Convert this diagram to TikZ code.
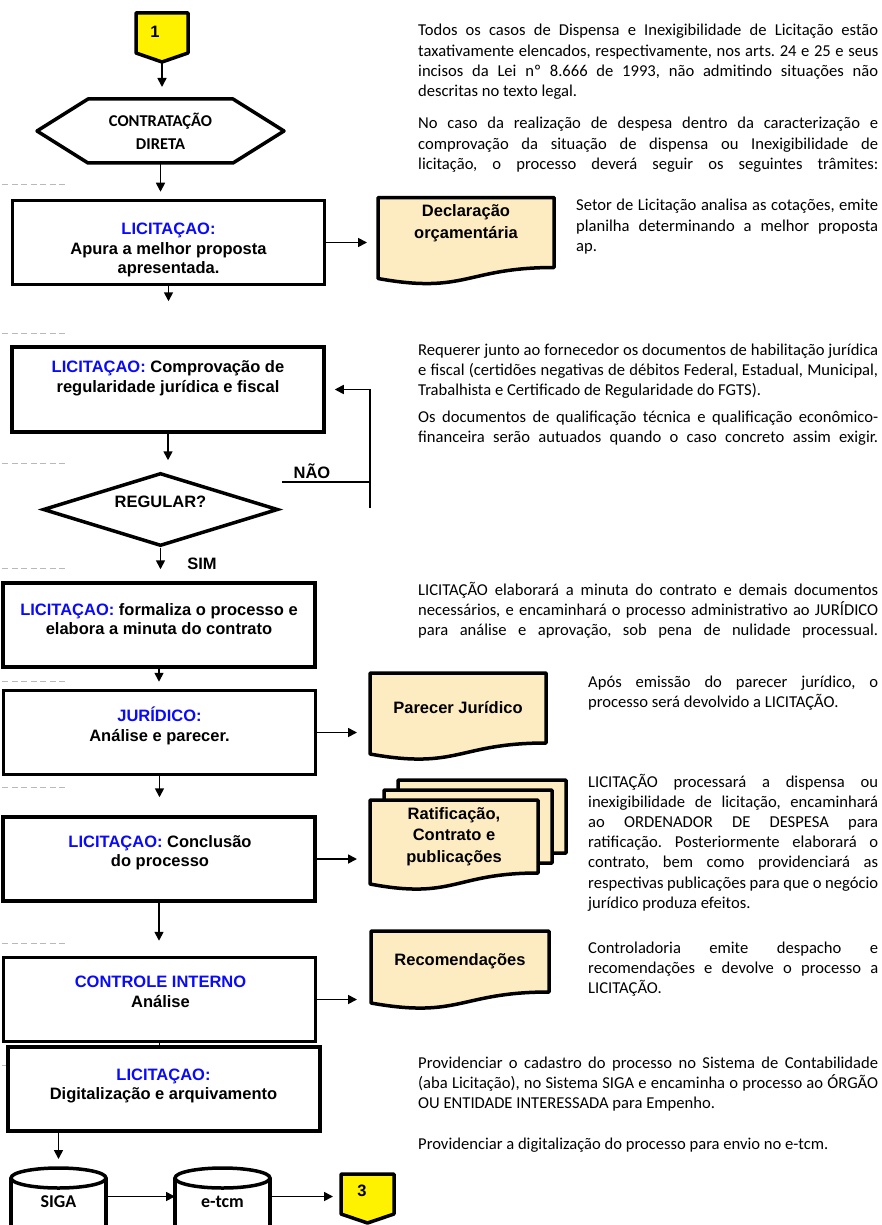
\documentclass[tikz,border=0pt]{standalone}
\usepackage{fontspec}
\setmainfont{Carlito}
\newfontfamily\arialfont{Liberation Sans}
\usetikzlibrary{arrows.meta,shapes.geometric,calc,backgrounds}

\definecolor{docfill}{RGB}{253,235,194}
\definecolor{sepgray}{RGB}{185,185,185}
\definecolor{setorblue}{RGB}{10,10,250}

\newcommand{\boxfont}{\arialfont\bfseries\fontsize{16.5}{19.5}\selectfont}
\newcommand{\docfont}{\arialfont\bfseries\fontsize{16.5}{21.5}\selectfont}
\newcommand{\hexfont}{\bfseries\fontsize{16.5}{23}\selectfont}
\newcommand{\dbfont}{\bfseries\fontsize{18}{20}\selectfont}
\newcommand{\notefont}{\fontsize{16.6}{20.2}\selectfont\frenchspacing}
\newcommand{\setor}[1]{\textcolor{setorblue}{#1}}

\newcommand{\docshape}[2][0,0]{%
  \path[docline] ($(#2.north west)+(#1)$) -- ($(#2.north east)+(#1)$)
    -- ($(#2.south east)+(#1)$)
    .. controls ($(#2.south)+(#1)$) and ($(#2.south)+(#1)+(0,27)$)
    .. ($(#2.south west)+(#1)+(0,11)$) -- cycle;}
\newcommand{\dbshape}[1]{%
  \draw[dbline] ($(#1.north west)+(0,10)$) -- ($(#1.south west)+(0,20)$);
  \draw[dbline] ($(#1.north east)+(0,10)$) -- ($(#1.south east)+(0,20)$);
  \draw[dbline] ($(#1.north)+(0,10)$) ellipse [x radius=47.5, y radius=10];}
\newcommand{\pageconn}[1]{%
  \path[offpage] (#1.north west) -- (#1.north east) -- ([yshift=9pt]#1.south east)
    -- (#1.south) -- ([yshift=9pt]#1.south west) -- cycle;}

\begin{document}
\begin{tikzpicture}[
    x=1pt, y=-1pt,
    proc/.style={draw, fill=white, line width=3.5pt, minimum width=312pt, minimum height=84pt},
    ptext/.style={font=\boxfont, align=center, inner sep=0pt},
    lbl/.style={font=\boxfont, inner sep=0pt},
    decision/.style={diamond, draw, fill=white, line width=3.5pt, aspect=3.2,
      minimum width=235pt, minimum height=73pt, font=\boxfont, inner sep=2pt, text depth=15pt},
    flow/.style={line width=1.7pt, -{Triangle[length=9pt,width=9pt]}},
    link/.style={line width=1.7pt},
    sep/.style={draw=sepgray, line width=1pt, dash pattern=on 6pt off 3.5pt},
    shell/.style={inner sep=0pt, outer sep=0pt},
    docbox/.style={shell, font=\docfont, align=center, minimum width=176pt, minimum height=70pt},
    docline/.style={draw, fill=docfill, line width=3.5pt, line join=round},
    offpage/.style={draw, fill=yellow, line width=3.5pt, line join=round},
    dbline/.style={line width=3.5pt},
    note/.style={anchor=base west, text width=460pt, align=justify, font=\notefont, inner sep=0pt},
  ]
  \useasboundingbox (0,0) rectangle (881,1225);
  \clip (0,0) rectangle (881,1225);

  \foreach \y in {185,333,463,568,681,787,943,1065}
    \draw[sep] (2,\y) -- (65,\y);

  \node[shell, minimum width=52pt, minimum height=49pt] (one) at (162,37.5) {};
  \pageconn{one}
  \node[lbl] (one txt) at (155,32) {1};

  \node[shell, font=\hexfont, align=center, minimum width=247pt, minimum height=64pt] (hex) at (160.5,131) {CONTRATAÇÃO\\DIRETA};
  \draw[line width=3.5pt, line join=round] (hex.west) -- ([xshift=51pt]hex.north west)
    -- ([xshift=-51pt]hex.north east) -- (hex.east)
    -- ([xshift=-51pt]hex.south east) -- ([xshift=51pt]hex.south west) -- cycle;

  \node[proc] (b1) at (168.5,242.5) {};
  \node[proc, minimum height=85pt] (b2) at (168,389.5) {};
  \node[decision] (reg) at (160.5,509.5) {REGULAR?};
  \node[proc] (b3) at (159,625) {};
  \node[proc] (b4) at (159.5,732.5) {};
  \node[proc] (b5) at (159,859) {};
  \node[proc] (b6) at (159.5,999.5) {};
  \node[proc] (b7) at (164,1089) {};

  \node[ptext] (t1) at (168.5,250) {\setor{LICITAÇAO:}\\Apura a melhor proposta\\apresentada.};
  \node[ptext] (t2) at (168,378.5) {\setor{LICITAÇAO:} Comprovação de\\regularidade jurídica e fiscal};
  \node[ptext] (t3) at (159,619) {\setor{LICITAÇAO:} formaliza o processo e\\elabora a minuta do contrato};
  \node[ptext] (t4) at (159.5,726) {\setor{JURÍDICO:}\\Análise e parecer.};
  \node[ptext] (t5) at (160,852.5) {\setor{LICITAÇAO:} Conclusão\\do processo};
  \node[ptext] (t6) at (160.5,992) {\setor{CONTROLE INTERNO}\\Análise};
  \node[ptext] (t7) at (163.5,1086) {\setor{LICITAÇAO:}\\Digitalização e arquivamento};

  \node[docbox] (decl) at (466,232.5) {Declaração\\orçamentária\\\mbox{}};
  \node[docbox] (parecer) at (458,708) {Parecer Jurídico};
  \node[docbox, minimum width=168pt, minimum height=73pt] (ratif) at (454,836.5) {Ratificação,\\Contrato e\\publicações};
  \node[docbox, minimum width=178pt, minimum height=61pt] (recom) at (460,961.5) {Recomendações};
  \begin{scope}[on background layer]
    \docshape{decl}
    \docshape{parecer}
    \docshape[28,-20]{ratif}
    \docshape[14,-10]{ratif}
    \docshape{ratif}
    \docshape{recom}
  \end{scope}

  \node[shell, font=\dbfont, minimum width=95pt, minimum height=57pt, text height=22pt, text depth=0pt] (siga) at (58.5,1196.5) {SIGA};
  \node[shell, font=\dbfont, minimum width=95pt, minimum height=57pt, text height=22pt, text depth=0pt] (etcm) at (222.5,1196.5) {e-tcm};
  \dbshape{siga}
  \dbshape{etcm}

  \node[shell, minimum width=53pt, minimum height=49pt] (three) at (367.5,1198.5) {};
  \pageconn{three}
  \node[lbl] (three txt) at (362,1191) {3};

  \draw[flow, shorten >=12pt] (one.south) -- (one.south |- hex.north);
  \draw[flow, shorten >=7pt] (hex.south) -- (hex.south |- b1.north);
  \draw[flow, shorten >=44pt] (b1.south) -- (b1.south |- b2.north);
  \draw[flow, shorten >=11pt] (b2.south) -- (b2.south |- reg.north);
  \draw[flow, shorten >=12pt] (reg.south) -- (reg.south |- b3.north);
  \draw[flow, shorten >=7pt] (b3.south) -- (b3.south |- b4.north);
  \draw[flow, shorten >=18pt] (b4.south) -- (b4.south |- b5.north);
  \draw[flow, shorten >=15pt] (b5.south) -- (b5.south |- b6.north);
  \draw[link] (b6.south) -- (b6.south |- b7.north);
  \draw[flow, shorten >=9pt] (siga |- b7.south) -- (siga.north);

  \draw[flow, shorten >=11pt] (b1.east) -- (b1.east -| decl.west);
  \draw[flow, shorten >=13pt] (b4.east) -- (b4.east -| parecer.west);
  \draw[flow, shorten >=13pt] (b5.east) -- (b5.east -| ratif.west);
  \draw[flow, shorten >=14pt] (b6.east) -- (b6.east -| recom.west);
  \draw[flow] (siga.east) -- (etcm.west);
  \draw[flow, shorten >=8pt] (etcm.east) -- (etcm.east -| three.west);

  \coordinate (nao) at (370,508);
  \coordinate (naoL) at (282,482);
  \draw[flow, shorten >=9pt] (nao) |- (b2.east);
  \draw[link] (naoL) -- node[lbl, pos=0.34, above=2pt] (nao txt) {NÃO} (naoL -| nao);
  \node[lbl] (sim) at (202,564) {SIM};

  \node[note] (p1) at (418,36) {Todos os casos de Dispensa e Inexigibilidade de Licitação estão\linebreak
    taxativamente elencados, respectivamente, nos arts. 24 e 25 e seus\linebreak
    incisos da Lei nº 8.666 de 1993, não admitindo situações não\linebreak
    descritas no texto legal.};
  \node[note] (p2) at (418,129) {\parfillskip=0pt\relax No caso da realização de despesa dentro da caracterização e\linebreak
    comprovação da situação de dispensa ou Inexigibilidade de\linebreak
    licitação, o processo deverá seguir os seguintes trâmites:\par};
  \node[note, text width=302pt] (p3) at (576,211) {Setor de Licitação analisa as cotações, emite\linebreak
    planilha determinando a melhor proposta\linebreak
    ap.};
  \node[note] (p4) at (418,355) {Requerer junto ao fornecedor os documentos de habilitação jurídica\linebreak
    e fiscal (certidões negativas de débitos Federal, Estadual, Municipal,\linebreak
    Trabalhista e Certificado de Regularidade do FGTS).};
  \node[note] (p5) at (418,422) {\parfillskip=0pt\relax Os documentos de qualificação técnica e qualificação econômico-\linebreak
    financeira serão autuados quando o caso concreto assim exigir.\par};
  \node[note] (p6) at (418,595.5) {\parfillskip=0pt\relax LICITAÇÃO elaborará a minuta do contrato e demais documentos\linebreak
    necessários, e encaminhará o processo administrativo ao JURÍDICO\linebreak
    para análise e aprovação, sob pena de nulidade processual.\par};
  \node[note, text width=290pt] (p7) at (588,687) {Após emissão do parecer jurídico, o\linebreak
    processo será devolvido a LICITAÇÃO.};
  \node[note, text width=290pt] (p8) at (588,787) {LICITAÇÃO processará a dispensa ou\linebreak
    inexigibilidade de licitação, encaminhará\linebreak
    ao ORDENADOR DE DESPESA para\linebreak
    ratificação. Posteriormente elaborará o\linebreak
    contrato, bem como providenciará as\linebreak
    respectivas publicações para que o negócio\linebreak
    jurídico produza efeitos.};
  \node[note, text width=290pt] (p9) at (588,953) {Controladoria emite despacho e\linebreak
    recomendações e devolve o processo a\linebreak
    LICITAÇÃO.};
  \node[note] (p10) at (418,1068) {Providenciar o cadastro do processo no Sistema de Contabilidade\linebreak
    (aba Licitação), no Sistema SIGA e encaminha o processo ao ÓRGÃO\linebreak
    OU ENTIDADE INTERESSADA para Empenho.};
  \node[note] (p11) at (418,1149) {Providenciar a digitalização do processo para envio no e-tcm.};
\end{tikzpicture}
\end{document}
